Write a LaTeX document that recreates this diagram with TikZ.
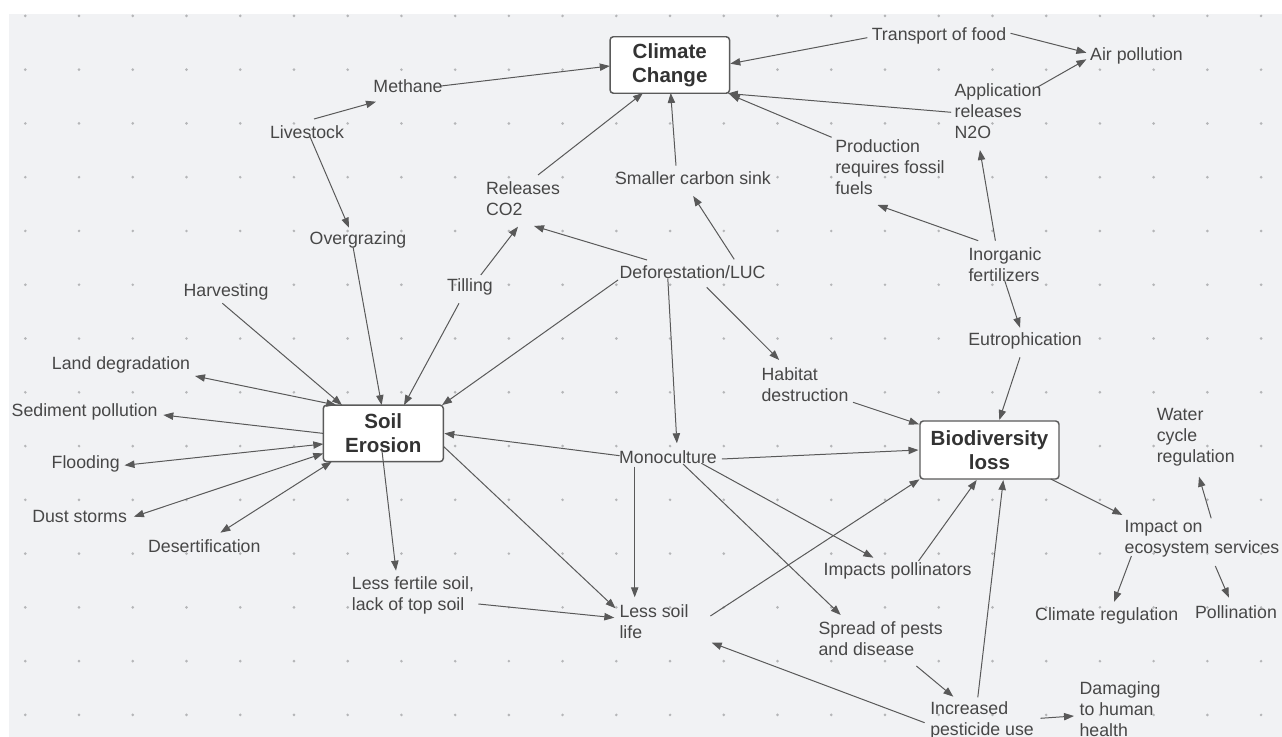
\documentclass[tikz,border=0pt]{standalone}
\usepackage{fontspec}
\setmainfont{Liberation Sans}
\usetikzlibrary{arrows.meta}
\definecolor{bgc}{HTML}{F1F2F4}
\definecolor{dotc}{HTML}{B5B6B8}
\definecolor{linec}{HTML}{595959}
\definecolor{txtc}{HTML}{474747}
\definecolor{boxc}{HTML}{5A5A5A}
\definecolor{boldc}{HTML}{333333}
\tikzset{
  lbl/.style={text=txtc, font=\fontsize{13.3pt}{15.75pt}\selectfont, inner sep=1pt, align=left},
  bigbox/.style={draw=boxc, fill=white, rounded corners=2.5pt, line width=1.1pt,
    minimum width=119.5*0.75pt, minimum height=56.5*0.75pt, inner sep=0pt,
    font=\bfseries\fontsize{15.4pt}{18pt}\selectfont, align=center, text=boldc},
  arr/.style={draw=linec, line width=0.75pt, -{Triangle[length=7.5pt,width=5.5pt]}},
  biarr/.style={draw=linec, line width=0.75pt, {Triangle[length=7.5pt,width=5.5pt]}-{Triangle[length=7.5pt,width=5.5pt]}},
}
\newcommand\myedge[5][arr]{\draw[#1] ([shift={(#3)}]#2.center) -- ([shift={(#5)}]#4.center);}
\begin{document}
\begin{tikzpicture}[x=0.75pt,y=-0.75pt]
\useasboundingbox (0,0) rectangle (1282,737);
\clip (0,0) rectangle (1282,737);
\fill[white] (0,0) rectangle (1282,737);
\fill[bgc] (9,14) rectangle (1282,737);
\foreach \i in {0,...,23} \foreach \j in {0,...,13}
  \fill[dotc] (25.3+53.73*\i, 15.9+53.77*\j) circle (1.1pt);

% boxes
\node[bigbox] (cc) at (669.8,65) {Climate\\Change};
\node[bigbox, minimum width=120*0.75pt] (soil) at (383.3,433.4) {Soil\\Erosion};
\node[bigbox, minimum width=139*0.75pt, minimum height=58*0.75pt] (bio) at (989.5,450) {Biodiversity\\loss};

% labels
\node[lbl] (live) at (307,132) {Livestock};
\node[lbl] (meth) at (408,86) {Methane};
\node[lbl] (overg) at (358,240) {Overgrazing};
\node[lbl] (harv) at (226,292) {Harvesting};
\node[lbl] (rco2) at (523,198.5) {Releases\\CO2};
\node[lbl] (till) at (470,287) {Tilling};
\node[lbl] (transp) at (939,36) {Transport of food};
\node[lbl] (airp) at (1136.5,56) {Air pollution};
\node[lbl] (appl) at (998,111) {Application\\releases\\N2O};
\node[lbl] (prod) at (890,166.7) {Production\\requires fossil\\fuels};
\node[lbl] (sink) at (693,178) {Smaller carbon sink};
\node[lbl] (defor) at (692.6,272) {Deforestation/LUC};
\node[lbl] (inorg) at (1005,264.7) {Inorganic\\fertilizers};
\node[lbl] (eutro) at (1025,341) {Eutrophication};
\node[lbl] (habit) at (805,384.3) {Habitat\\destruction};
\node[lbl] (landd) at (121,365) {Land degradation};
\node[lbl] (sedim) at (84.7,412) {Sediment pollution};
\node[lbl] (flood) at (85.7,464) {Flooding};
\node[lbl] (dust) at (79.6,516) {Dust storms};
\node[lbl] (desert) at (204.3,546) {Desertification};
\node[lbl] (lessf) at (413,595.5) {Less fertile soil,\\lack of top soil};
\node[lbl] (lesssoil) at (654,622) {Less soil\\life};
\node[lbl] (mono) at (668,457) {Monoculture};
\node[lbl] (water) at (1195.7,437.3) {Water\\cycle\\regulation};
\node[lbl] (impact) at (1202,539) {Impact on\\ecosystem services};
\node[lbl] (climreg) at (1106.7,616) {Climate regulation};
\node[lbl] (pollin) at (1236,611.7) {Pollination};
\node[lbl] (impol) at (897.6,570.7) {Impacts pollinators};
\node[lbl] (spread) at (880.7,638.8) {Spread of pests\\and disease};
\node[lbl] (incr) at (982,720) {Increased\\pesticide use};
\node[lbl] (damag) at (1120,709) {Damaging\\to human\\health};

% connectors
\myedge{live}{7,-13}{meth}{-32,15.7}
\myedge{meth}{33,0}{cc}{-60,1}
\myedge{live}{3,4.7}{overg}{-9,-12.3}
\myedge{overg}{-5,6.7}{soil}{-1.7,-28.3}
\myedge{rco2}{15,-23.5}{cc}{-26.8,28}
\myedge{till}{10.8,-12}{rco2}{-5,28.2}
\myedge{defor}{-45.6,-12}{rco2}{11,27.5}
\myedge{till}{-11,16.3}{soil}{20.7,-28.3}
\myedge{defor}{-74.6,8}{soil}{58.7,-28.3}
\myedge{harv}{-3.6,11.3}{soil}{-41.3,-28.3}
\myedge[biarr]{landd}{74,11}{soil}{-47,-28.3}
\myedge{soil}{-60,0}{sedim}{78.6,3}
\myedge[biarr]{flood}{38.8,1.3}{soil}{-60,10.6}
\myedge[biarr]{dust}{54.3,0.7}{soil}{-60,20}
\myedge[biarr]{desert}{16.1,-13.3}{soil}{-51.6,28.3}
\myedge{soil}{-1.6,15}{lessf}{-17,-24.8}
\myedge{soil}{60.5,13.3}{lesssoil}{-38.5,-13.7}
\myedge{mono}{-48.4,-1.3}{soil}{61,0}
\myedge{lessf}{65.4,8.5}{lesssoil}{-39.7,-4.3}
\myedge{mono}{-33.3,9.7}{lesssoil}{-19.3,-24.7}
\myedge{defor}{-24.8,6.3}{mono}{8.9,-13.7}
\myedge{defor}{41.6,-12.7}{sink}{0.2,18}
\myedge{sink}{-17,-12.3}{cc}{0.9,28}
\myedge{defor}{14.1,15.3}{habit}{-25.8,-24.3}
\myedge{habit}{48,18}{bio}{-70.5,-25.7}
\myedge{inorg}{-0.5,15.3}{eutro}{-5,-13.3}
\myedge{eutro}{-5,16.3}{bio}{9.8,-30}
\myedge{inorg}{-26.8,-24}{prod}{-12.5,38.3}
\myedge{inorg}{-9.6,-24}{appl}{-18.1,39}
\myedge{prod}{-58.4,-29.4}{cc}{60,29.5}
\myedge{appl}{-46.8,1.3}{cc}{58,28.5}
\myedge{transp}{-71.7,1.7}{cc}{60.5,-1.3}
\myedge{transp}{71.6,-2.7}{airp}{-50.1,-3.3}
\myedge{appl}{39.2,-23.7}{airp}{-50.1,3.3}
\myedge{mono}{53.9,2}{bio}{-71,0}
\myedge{mono}{33.4,6.3}{impol}{-24.2,-13}
\myedge{mono}{15,7}{spread}{-40,-23.8}
\myedge{impol}{20.9,-9.7}{bio}{-12.8,30}
\myedge{lesssoil}{56.4,-6}{bio}{-70,29.3}
\myedge{incr}{-4.2,-22.7}{bio}{13.8,30}
\myedge{incr}{-57.4,2.7}{lesssoil}{57.7,20.7}
\myedge{spread}{35.7,27.2}{incr}{-28.7,-23.3}
\myedge{incr}{58.5,-1.7}{damag}{-46,7}
\myedge{bio}{61.2,29}{impact}{-79.6,-24}
\myedge{impact}{9.2,-20.7}{water}{3.3,39.4}
\myedge{impact}{-70.6,17}{climreg}{7.5,-14.3}
\myedge{impact}{13.3,27}{pollin}{-7.1,-14}
\end{tikzpicture}
\end{document}
